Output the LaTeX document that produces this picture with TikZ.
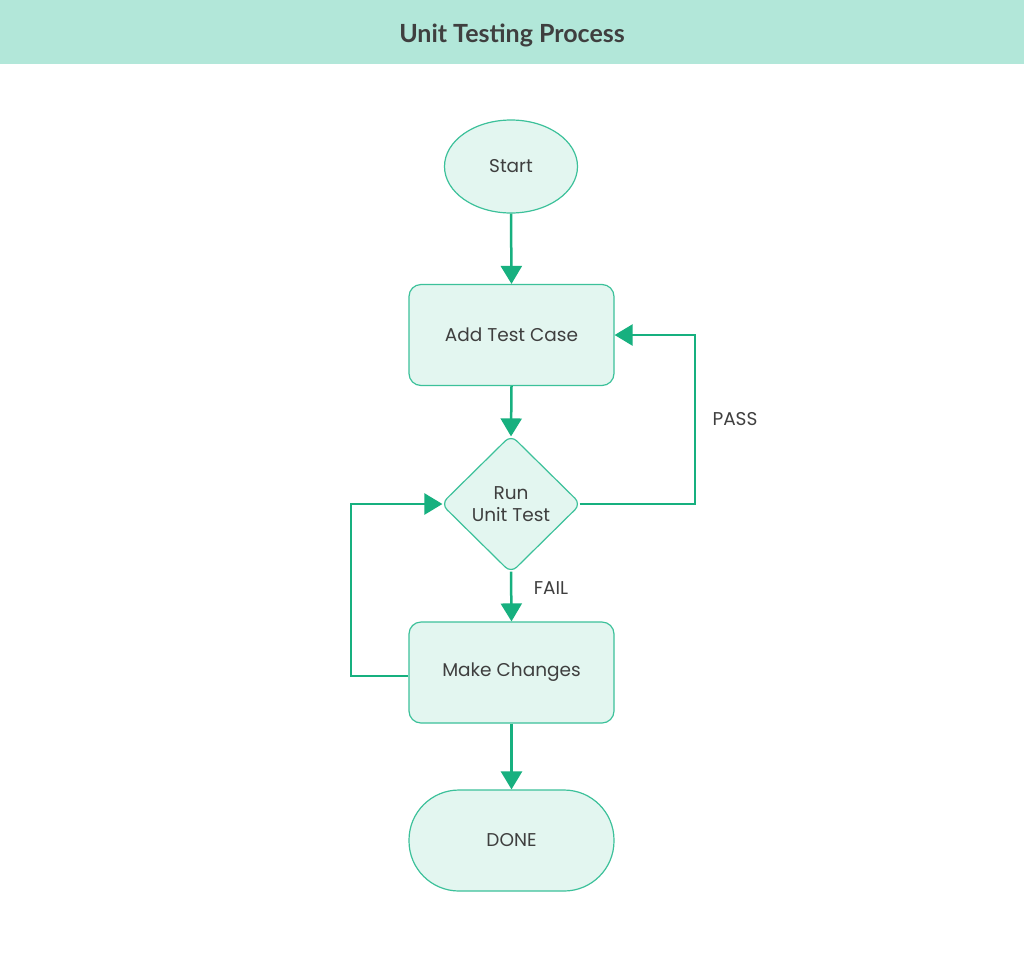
\documentclass[tikz,border=0pt]{standalone}
\usepackage{fontspec}
\setmainfont{Poppins}
\newfontfamily\titlefont{Lato}
\usetikzlibrary{shapes.geometric,arrows.meta}
\definecolor{band}{HTML}{B2E7D9}
\definecolor{nfill}{HTML}{E3F6F0}
\definecolor{nborder}{HTML}{3CC19A}
\definecolor{conn}{HTML}{17B07F}
\definecolor{txt}{HTML}{3F3F3F}
\begin{document}
\begin{tikzpicture}[x=1pt,y=-1pt,
  box/.style={draw=nborder,fill=nfill,line width=1.2pt,text=txt,font=\fontsize{18.5}{22.5}\selectfont,inner sep=0pt},
  procbox/.style={box,rectangle,rounded corners=12pt,minimum width=205pt,minimum height=101pt},
  startbox/.style={box,ellipse,minimum width=133pt,minimum height=93pt},
  decbox/.style={box,diamond,rounded corners=8pt,minimum width=140pt,minimum height=138pt,align=center},
  endbox/.style={box,rectangle,rounded corners=50pt,minimum width=205pt,minimum height=101pt},
  conn/.style={draw=conn,line width=2.5pt,-{Triangle[length=18pt,width=21pt]}},
  lbl/.style={text=txt,font=\fontsize{18.5}{22.5}\selectfont,inner sep=0pt}]
\useasboundingbox (0,0) rectangle (1024,959);
\fill[white] (0,0) rectangle (1024,959);
\fill[band] (0,0) rectangle (1024,64);
\node[text=txt,font=\titlefont\bfseries\fontsize{25}{29}\selectfont] (title) at (512,35) {Unit Testing Process};
\node[startbox] (start) at (511,166.5) {Start};
\node[procbox] (add) at (511.5,335) {Add Test Case};
\node[decbox] (run) at (511,504) {Run\\Unit Test};
\node[procbox] (make) at (511.5,672.5) {Make Changes};
\node[endbox] (done) at (511.5,840.5) {DONE};
\coordinate (pr) at (695,504);
\coordinate (pt) at (695,335);
\coordinate (ml) at (351,676);
\coordinate (mt) at (351,504);
\draw[conn] (start.south) -- (add.north);
\draw[conn] (add.south) -- ([yshift=-2pt]run.north);
\draw[conn] ([yshift=2pt]run.south) -- (make.north);
\draw[conn] (make.south) -- (done.north);
\draw[conn] ([xshift=-2pt]run.east) -- (pr) -- (pt) -- (add.east);
\draw[conn] (make.west |- ml) -- (ml) -- (mt) -- ([xshift=2pt]run.west);
\node[lbl] (pass) at (735,419) {PASS};
\node[lbl] (fail) at (551,588) {FAIL};
\end{tikzpicture}
\end{document}
